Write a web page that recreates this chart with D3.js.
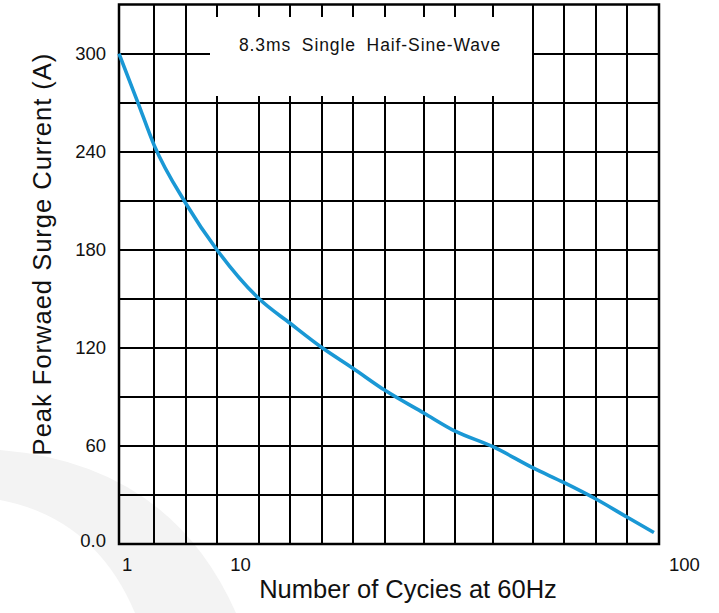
<!DOCTYPE html>
<html><head><meta charset="utf-8">
<script src="https://cdn.jsdelivr.net/npm/d3@7"></script>
<style>body{margin:0;background:#fff} svg{display:block}</style>
</head><body><svg id="c" width="719" height="613"></svg>
<script>
// ---- data ----
const yTickValues = [0, 60, 120, 180, 240, 300];
const yTickLabels = ["0.0", "60", "120", "180", "240", "300"];
const yGridValues = [30, 60, 90, 120, 150, 180, 210, 240, 270, 300];
// vertical grid line positions (grid units, chart is 16 units wide)
const xGridValues = [1.04, 1.99, 2.9, 4.15, 5.07, 6.02, 6.93, 7.88, 9.04, 9.96, 11.08, 12.27, 13.19, 14.13, 15.05];
const xTickPositions = [0.24, 3.6, 16.75];
const xTickLabels = ["1", "10", "100"];
// surge current curve
const curveX = [0, 0.56, 1.04, 1.99, 2.9, 4.15, 5.07, 6.02, 6.93, 7.88, 9.04, 9.96, 11.08, 12.27, 13.19, 14.13, 15.05, 15.85];
const curveY = [300, 270, 244, 208, 180, 150, 135, 120, 107.5, 94, 80, 69, 59.5, 46.5, 37.5, 27.5, 16.5, 7];
const boxText = "8.3ms Single Haif-Sine-Wave";
const xTitle = "Number of Cycies at 60Hz";
const yTitle = "Peak Forwaed Surge Current (A)";

// ---- layout ----
const svg = d3.select("#c");
const L = 119, R = 659, T = 4.5, B = 544;
const x = d3.scaleLinear().domain([0, 16]).range([L, R]);
const y = d3.scaleLinear().domain([0, 330]).range([B, T]);
const font = "'Liberation Sans', Arial, sans-serif";

// watermark
svg.append("path")
  .attr("d", "M0,450 Q170,464 236,613 L135,613 Q95,518 0,500 Z")
  .attr("fill", "#f3f3f3");

const g = svg.append("g");
// horizontal grid
g.selectAll("line.h").data(yGridValues).join("line")
  .attr("x1", L).attr("x2", R)
  .attr("y1", d => Math.round(y(d))).attr("y2", d => Math.round(y(d)))
  .attr("stroke", "#000").attr("stroke-width", 2);
// vertical grid
g.selectAll("line.v").data(xGridValues).join("line")
  .attr("x1", d => Math.round(x(d))).attr("x2", d => Math.round(x(d)))
  .attr("y1", T).attr("y2", B)
  .attr("stroke", "#000").attr("stroke-width", 2);

// annotation box (white, hides grid)
const bx0 = 210, bx1 = Math.round(x(12.27)) - 1, by0 = 17, by1 = 96;
svg.append("rect").attr("x", bx0).attr("y", by0).attr("width", bx1 - bx0).attr("height", by1 - by0)
  .attr("fill", "#fff");
svg.append("text").attr("x", 370).attr("y", 51)
  .attr("text-anchor", "middle").attr("font-family", font).attr("font-size", 17.5)
  .attr("letter-spacing", 0.9).attr("word-spacing", 5).attr("fill", "#111")
  .text(boxText);

// frame
svg.append("rect").attr("x", L).attr("y", T).attr("width", R - L).attr("height", B - T)
  .attr("fill", "none").attr("stroke", "#000").attr("stroke-width", 2.5);

// curve
const pts = curveX.map((v, i) => [v, curveY[i]]);
svg.append("path").datum(pts)
  .attr("d", d3.line().x(d => x(d[0])).y(d => y(d[1])).curve(d3.curveMonotoneX))
  .attr("fill", "none").attr("stroke", "#1a98d5").attr("stroke-width", 3.6)
  .attr("stroke-linecap", "butt");

// y tick labels
svg.selectAll("text.yt").data(yTickValues).join("text")
  .attr("x", 106).attr("y", d => y(d) - (d === 0 ? 3 : 0)).attr("dy", "0.35em")
  .attr("text-anchor", "end").attr("font-family", font).attr("font-size", 18.5).attr("fill", "#111")
  .text((d, i) => yTickLabels[i]);
// x tick labels
svg.selectAll("text.xt").data(xTickPositions).join("text")
  .attr("x", d => x(d)).attr("y", 571)
  .attr("text-anchor", "middle").attr("font-family", font).attr("font-size", 18.5).attr("fill", "#111")
  .text((d, i) => xTickLabels[i]);

// axis titles
svg.append("text").attr("x", 408).attr("y", 598).attr("text-anchor", "middle")
  .attr("font-family", font).attr("font-size", 25.5).attr("fill", "#111").text(xTitle);
svg.append("text").attr("transform", "translate(51,254) rotate(-90)").attr("text-anchor", "middle")
  .attr("font-family", font).attr("font-size", 25.5).attr("letter-spacing", 1).attr("fill", "#111").text(yTitle);
</script></body></html>
